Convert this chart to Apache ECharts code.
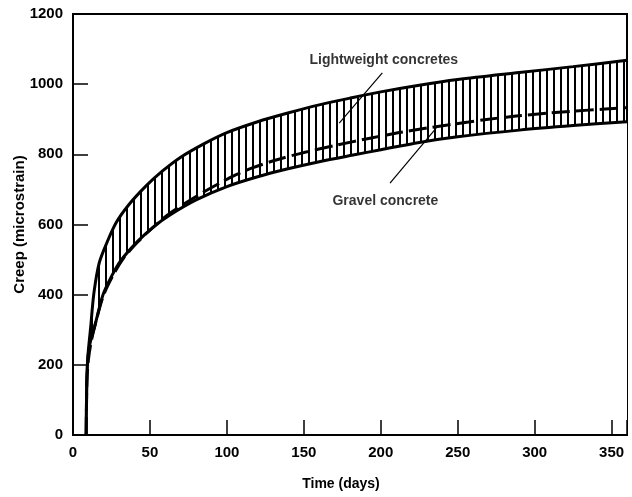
<!DOCTYPE html>
<html>
<head>
<meta charset="utf-8">
<script src="https://cdn.jsdelivr.net/npm/echarts@6/dist/echarts.min.js"></script>
<style>
  html, body { margin: 0; padding: 0; background: #fff; }
  #main { width: 632px; height: 497px; }
</style>
</head>
<body>
<div id="main"></div>
<script>
// creep curves: [time (days), creep (microstrain)]
var upperLightweight = [
  [8.6, 0], [8.8, 110], [9.5, 214], [11.5, 308], [13.6, 405], [17, 490], [22, 548],
  [28, 605], [36, 655], [47, 708], [58, 752], [70, 792], [85, 830], [100, 862],
  [120, 893], [139, 917], [160, 941], [182, 962], [200, 978], [225, 997],
  [250, 1013], [290, 1033], [325, 1050], [360, 1068]
];
var lowerLightweight = [
  [8.6, 0], [8.9, 120], [9.6, 214], [11, 260], [14, 308], [19.5, 400], [25, 452],
  [31, 497], [42, 552], [52, 592], [63, 627], [80, 670], [100, 708], [120, 736],
  [139, 758], [160, 779], [182, 798], [200, 813], [225, 834], [250, 850],
  [290, 869], [325, 882], [360, 893]
];
var gravelConcrete = [
  [8.6, 0], [9, 150], [10, 214], [12, 270], [15, 325], [20, 400], [26, 455],
  [33, 505], [42, 550], [52, 592], [63, 632], [80, 680], [95, 717], [106, 742],
  [117, 762], [132, 784], [150, 805], [171, 826], [193, 846], [212, 862],
  [230, 875], [257, 892], [270, 900], [288, 909], [310, 918], [335, 926], [360, 933]
];

var xTicks = [0, 50, 100, 150, 200, 250, 300, 350];
var yTicks = [0, 200, 400, 600, 800, 1000, 1200];

// annotation texts and their leader lines (data coordinates)
var labelText = [
  [202, 1069, 'Lightweight concretes'],
  [203, 668, 'Gravel concrete']
];
var leaderLines = [
  [[201, 1032], [173, 889]],
  [[206, 718], [236, 875]]
];

var chart = echarts.init(document.getElementById('main'));

// vertical hatching pattern between the two lightweight curves
var hatch = document.createElement('canvas');
hatch.width = 7;
hatch.height = 8;
var ctx = hatch.getContext('2d');
ctx.fillStyle = '#000';
ctx.fillRect(0, 0, 2, 8);

var font = 'Liberation Sans';

var option = {
  backgroundColor: '#fff',
  animation: false,
  grid: {
    left: 73, right: 5, top: 14, bottom: 62,
    show: true, borderColor: '#000', borderWidth: 2, backgroundColor: 'transparent'
  },
  xAxis: {
    type: 'value',
    min: 0, max: 360, interval: 50,
    z: 10,
    name: 'Time (days)',
    nameLocation: 'middle',
    nameGap: 42,
    nameTextStyle: { color: '#000', fontSize: 14, fontWeight: 'bold', fontFamily: font, padding: [0, 18, 0, 0] },
    axisLine: { show: true, lineStyle: { color: '#000', width: 2 } },
    axisTick: { show: true, inside: true, length: 15, lineStyle: { color: '#000', width: 1.5 } },
    splitLine: { show: false },
    axisLabel: {
      color: '#000', fontSize: 15, fontWeight: 'bold', fontFamily: font, margin: 10,
      formatter: function (v) { return xTicks.indexOf(v) >= 0 ? String(v) : ''; }
    }
  },
  yAxis: {
    type: 'value',
    min: 0, max: 1200, interval: 200,
    z: 10,
    name: 'Creep (microstrain)',
    nameLocation: 'middle',
    nameGap: 46,
    nameMoveOverlap: false,
    nameTextStyle: { color: '#000', fontSize: 15, fontWeight: 'bold', fontFamily: font },
    axisLine: { show: true, lineStyle: { color: '#000', width: 2 } },
    axisTick: { show: true, inside: true, length: 15, lineStyle: { color: '#000', width: 1.5 } },
    splitLine: { show: false },
    axisLabel: {
      color: '#000', fontSize: 15, fontWeight: 'bold', fontFamily: font, margin: 10,
      formatter: function (v) { return yTicks.indexOf(v) >= 0 ? String(v) : ''; }
    }
  },
  series: [
    {
      name: 'Lightweight upper',
      type: 'line',
      data: upperLightweight,
      smooth: 0.3,
      showSymbol: false,
      lineStyle: { color: '#000', width: 3 },
      areaStyle: { color: { image: hatch, repeat: 'repeat' }, opacity: 1 },
      z: 2
    },
    {
      name: 'Lightweight lower',
      type: 'line',
      data: lowerLightweight,
      smooth: 0.3,
      showSymbol: false,
      lineStyle: { color: '#000', width: 3 },
      areaStyle: { color: '#fff', opacity: 1 },
      z: 3
    },
    {
      name: 'Gravel concrete',
      type: 'line',
      data: gravelConcrete,
      smooth: 0.3,
      showSymbol: false,
      lineStyle: { color: '#000', width: 3, type: [18, 6] },
      z: 4
    },
    {
      name: 'leaders',
      type: 'lines',
      coordinateSystem: 'cartesian2d',
      data: leaderLines.map(function (l) { return { coords: l }; }),
      lineStyle: { color: '#000', width: 1.2, opacity: 1 },
      z: 5
    },
    {
      name: 'labels',
      type: 'scatter',
      data: labelText,
      symbolSize: 0,
      label: {
        show: true, position: 'inside',
        color: '#000', fontSize: 14, fontWeight: 'bold', fontFamily: font,
        textBorderWidth: 0,
        formatter: function (p) { return p.value[2]; }
      },
      z: 6
    }
  ]
};

chart.setOption(option);
</script>
</body>
</html>
